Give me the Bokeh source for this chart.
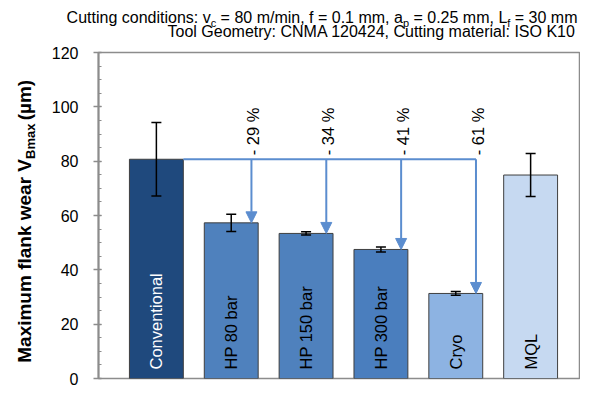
import math
from bokeh.plotting import figure
from bokeh.layouts import column, row
from bokeh.models import (ColumnDataSource, Whisker, TeeHead, Arrow, NormalHead,
                          SingleIntervalTicker, Range1d)
from bokeh.core.properties import value
from bokeh.embed import file_html
from bokeh.resources import INLINE

# ---------------- data ----------------
categories = ["Conventional", "HP 80 bar", "HP 150 bar", "HP 300 bar", "Cryo", "MQL"]
wear = [80.7, 57.3, 53.4, 47.5, 31.3, 74.9]
wear_err = [13.5, 3.2, 0.6, 0.9, 0.7, 7.9]
reduction_labels = ["- 29 %", "- 34 %", "- 41 %", "- 61 %"]   # HP 80, HP 150, HP 300, Cryo
bar_colors = ["#1F497D", "#4F81BD", "#4F81BD", "#4A7EBE", "#8DB3E2", "#C6D9F1"]
label_colors = ["white", "black", "black", "black", "black", "black"]

title_line1 = [("Cutting conditions: v", False), ("c", True), (" = 80 m/min, f = 0.1 mm, a", False),
               ("p", True), (" = 0.25 mm, L", False), ("f", True), (" = 30 mm", False)]
title_line2 = "Tool Geometry: CNMA 120424, Cutting material: ISO K10"
y_title_main = "Maximum flank wear V"
y_title_sub = "Bmax"
y_title_tail = "(µm)"

# ---------------- layout constants ----------------
FONT = "Liberation Sans"
W, H = 580, 387
HEAD_H = 44                 # header strip height
LAB_W = 48                  # strip holding the rotated y title
BODY_H = H - HEAD_H
MAIN_W = W - LAB_W
XR0, XR1 = -0.7733, 5.653
BAR_W = 0.72
ARROW_DX = 0.27
ARROW_COLOR = "#5B8DCF"
AXIS_GRAY = "#8C8C8C"
MID = 0.3465                # baseline -> middle of text box, in em

REG = {' ': 278, ',': 278, '.': 278, '/': 278, ':': 278, '=': 584, '-': 333, '%': 889,
       'A': 667, 'C': 722, 'G': 778, 'I': 278, 'K': 667, 'L': 556, 'M': 833, 'N': 722,
       'O': 778, 'S': 667, 'T': 611, 'a': 556, 'c': 500, 'd': 556, 'e': 556, 'f': 278,
       'g': 556, 'i': 222, 'l': 222, 'm': 833, 'n': 556, 'o': 556, 'p': 556, 'r': 333,
       's': 500, 't': 278, 'u': 556, 'v': 500, 'y': 500}
for d in "0123456789":
    REG[d] = 556
BOLD = {' ': 278, '(': 333, ')': 333, 'M': 833, 'B': 722, 'V': 667, 'a': 556, 'e': 556,
        'f': 333, 'i': 278, 'k': 556, 'l': 278, 'm': 889, 'n': 611, 'r': 389, 'u': 611,
        'w': 778, 'x': 556, 'µ': 611}


def tw(s, size, bold=False):
    tab = BOLD if bold else REG
    return sum(tab.get(ch, 556) for ch in s) * size / 1000.0


def blank_fig(w, h):
    f = figure(width=w, height=h, output_backend="svg", toolbar_location=None, title=None,
               x_range=Range1d(0, w), y_range=Range1d(0, h),
               x_axis_location=None, y_axis_location=None,
               min_border=0, min_border_left=0, min_border_right=0,
               min_border_top=0, min_border_bottom=0)
    f.grid.visible = False
    f.outline_line_color = None
    f.background_fill_color = "white"
    f.border_fill_color = "white"
    return f


def put(f, h, px, py, text, size, bold=False, angle=0.0, align="left"):
    f.text(x=[px], y=[h - py], text=[text], text_font=value(FONT),
           text_font_size=f"{size}px", text_font_style="bold" if bold else "normal",
           text_align=align, text_baseline="middle", angle=angle, text_color="black")


# ---------------- header ----------------
head = blank_fig(W, HEAD_H)
RIGHT = 577
T_SIZE, T_SUB = 16, 11
widths = [tw(t, T_SUB if s else T_SIZE) for t, s in title_line1]
cx = RIGHT - sum(widths)
for (txt, is_sub), w in zip(title_line1, widths):
    s = T_SUB if is_sub else T_SIZE
    lead = len(txt) - len(txt.lstrip(" "))
    base = 23 + (3.5 if is_sub else 0)
    put(head, HEAD_H, cx + tw(" " * lead, s), base - MID * s, txt.strip(" "), s)
    cx += w
put(head, HEAD_H, RIGHT - tw(title_line2, T_SIZE), 37 - MID * T_SIZE, title_line2, T_SIZE)

# ---------------- rotated y title ----------------
ylab = blank_fig(LAB_W, BODY_H)
Y_SIZE, Y_SUB = 19, 13
BASE_X = 24 + MID * Y_SIZE
w_main = tw(y_title_main, Y_SIZE, True)
w_sub = tw(y_title_sub, Y_SUB, True)
w_tail = tw(" " + y_title_tail, Y_SIZE, True)
bottom = 174 + (w_main + w_sub + w_tail) / 2
junction = bottom - w_main - 1
ROT = math.pi / 2
# main part ends exactly at the junction, the subscript starts there
put(ylab, BODY_H, BASE_X - MID * Y_SIZE, junction, y_title_main, Y_SIZE, True, ROT, "right")
put(ylab, BODY_H, BASE_X + 4 - MID * Y_SUB, junction, y_title_sub, Y_SUB, True, ROT, "left")
put(ylab, BODY_H, BASE_X - MID * Y_SIZE, junction - w_sub - tw(" ", Y_SIZE, True),
    y_title_tail, Y_SIZE, True, ROT, "left")

# ---------------- main chart ----------------
p = figure(width=MAIN_W, height=BODY_H, output_backend="svg", toolbar_location=None, title=None,
           x_range=Range1d(XR0, XR1), y_range=Range1d(0, 120),
           x_axis_location=None,
           min_border_left=97 - LAB_W, min_border_right=1, min_border_top=8, min_border_bottom=9)
p.grid.visible = False
p.background_fill_color = "white"
p.border_fill_color = "white"
p.outline_line_color = AXIS_GRAY
p.outline_line_width = 1.5

yax = p.yaxis[0]
yax.ticker = SingleIntervalTicker(interval=20, num_minor_ticks=4)
yax.axis_line_color = AXIS_GRAY
yax.axis_line_width = 2
yax.major_tick_line_color = AXIS_GRAY
yax.major_tick_line_width = 1.5
yax.major_tick_in = 3
yax.major_tick_out = 5
yax.minor_tick_line_color = AXIS_GRAY
yax.minor_tick_line_width = 1.2
yax.minor_tick_in = 3
yax.minor_tick_out = 0
yax.major_label_text_font = FONT
yax.major_label_text_font_size = "16px"
yax.major_label_text_color = "black"
yax.major_label_standoff = 15

xs = list(range(len(categories)))
src = ColumnDataSource(dict(
    x=xs, top=wear, color=bar_colors, name=categories, lcol=label_colors,
    upper=[v + e for v, e in zip(wear, wear_err)],
    lower=[v - e for v, e in zip(wear, wear_err)],
    ty=[3.3] * len(categories),
))

p.vbar(x="x", top="top", bottom=0, width=BAR_W, fill_color="color",
       line_color="#3F3F3F", line_width=1, source=src)

p.text(x="x", y="ty", text="name", text_color="lcol", angle=math.pi / 2,
       text_align="left", text_baseline="middle", text_font=value(FONT),
       text_font_size="16.5px", source=src)

p.add_layout(Whisker(base="x", upper="upper", lower="lower", source=src, level="overlay",
                     line_color="black", line_width=1.5,
                     upper_head=TeeHead(size=10, line_color="black", line_width=1.5),
                     lower_head=TeeHead(size=10, line_color="black", line_width=1.5)))

# reduction arrows
ref = wear[0]
ax = [i + ARROW_DX for i in range(1, 5)]
asrc = ColumnDataSource(dict(ax=ax, y0=[ref] * 4, y1=wear[1:5], lab=reduction_labels))
p.segment(x0=[xs[0] + BAR_W / 2], y0=[ref], x1=[ax[-1]], y1=[ref],
          line_color=ARROW_COLOR, line_width=2)
p.add_layout(Arrow(x_start="ax", y_start="y0", x_end="ax", y_end="y1", source=asrc,
                   line_color=ARROW_COLOR, line_width=2,
                   end=NormalHead(size=11, fill_color=ARROW_COLOR, line_color=ARROW_COLOR)))
p.text(x="ax", y="y0", text="lab", angle=math.pi / 2, text_align="left",
       text_baseline="middle", text_font=value(FONT), text_font_size="16.5px",
       text_color="black", x_offset=2, y_offset=-4, source=asrc)

layout = column(head, row(ylab, p, spacing=0), spacing=0)
open("out.html", "w").write(file_html(layout, INLINE))
